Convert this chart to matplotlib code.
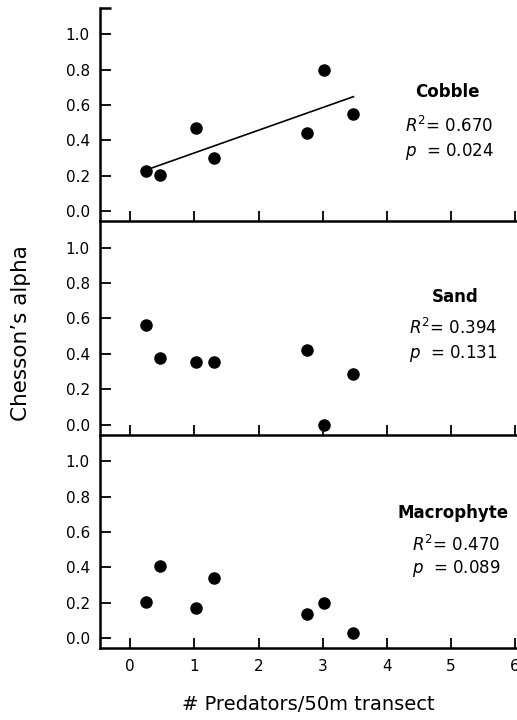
"""Chesson's alpha versus predator density for three habitat types."""
import matplotlib
matplotlib.use("Agg")
import matplotlib.pyplot as plt
from matplotlib.ticker import FixedLocator
import numpy as np

# predator counts per site (same sites in every habitat)
predators = [0.25, 0.47, 1.03, 1.30, 2.75, 3.02, 3.48]

# Chesson's alpha per habitat
cobble = [0.225, 0.206, 0.468, 0.30, 0.44, 0.80, 0.547]
sand = [0.566, 0.377, 0.355, 0.355, 0.424, 0.0, 0.289]
macrophyte = [0.205, 0.408, 0.173, 0.339, 0.136, 0.20, 0.028]

habitats = ["Cobble", "Sand", "Macrophyte"]
r_squared = ["0.670", "0.394", "0.470"]
p_values = ["0.024", "0.131", "0.089"]
x_ticks = [0, 1, 2, 3, 4, 5, 6]
y_ticks = [0.0, 0.2, 0.4, 0.6, 0.8, 1.0]

plt.rcParams.update({
    "font.family": "DejaVu Sans",
    "mathtext.fontset": "dejavusans",
    "xtick.labelsize": 11,
    "ytick.labelsize": 11,
})

fig = plt.figure(figsize=(5.17, 7.2), dpi=100)

left, width, height = 0.1925, 0.8075, 0.2965
bottoms = [0.1 + 2 * height, 0.1 + height, 0.1]
series = [cobble, sand, macrophyte]

# text placement (data coords) for each panel: name centre x, stats left x, baselines
name_x = [4.95, 5.07, 5.04]
stats_x = [4.29, 4.34, 4.39]
name_y = [0.646, 0.692, 0.679]
r2_y = [0.45, 0.515, 0.49]
p_y = [0.313, 0.377, 0.368]

axes = []
for i, (values, bottom) in enumerate(zip(series, bottoms)):
    ax = fig.add_axes([left, bottom, width, height])
    ax.patch.set_visible(False)
    axes.append(ax)
    ax.scatter(predators, values, s=64, color="black", zorder=3, clip_on=False)
    ax.set_xlim(-0.48, 6.03)
    ax.set_ylim(-0.055, 1.15)
    ax.set_xticks(x_ticks)
    ax.set_yticks(y_ticks)
    ax.set_yticklabels([f"{v:.1f}" for v in y_ticks])
    ax.tick_params(axis="both", direction="in", width=1.3, color="black")
    ax.tick_params(axis="y", length=8, pad=7)
    ax.tick_params(axis="x", length=7, pad=8)
    for side in ("top", "right"):
        ax.spines[side].set_visible(False)
    for side in ("left", "bottom"):
        ax.spines[side].set_linewidth(1.8)
        ax.spines[side].set_zorder(5)
    if i < 2:
        ax.tick_params(axis="x", labelbottom=False)

    ax.text(name_x[i], name_y[i], habitats[i], ha="center", va="baseline",
            fontsize=12, fontweight="bold")
    ax.text(stats_x[i], r2_y[i], rf"$R^2$= {r_squared[i]}", ha="left",
            va="baseline", fontsize=12)
    ax.text(stats_x[i], p_y[i], rf"$p$  = {p_values[i]}", ha="left",
            va="baseline", fontsize=12)

# least-squares line for cobble
slope, intercept = np.polyfit(predators, cobble, 1)
fit_x = np.array([min(predators), max(predators)])
axes[0].plot(fit_x, slope * fit_x + intercept, color="black", linewidth=1.2, zorder=2)

# small cap tick at the top of the y axis
axes[0].yaxis.set_minor_locator(FixedLocator([1.15]))
axes[0].tick_params(axis="y", which="minor", direction="in", length=8, width=1.8)

axes[2].set_xlabel("# Predators/50m transect", fontsize=14, labelpad=15)
fig.text(0.041, 0.537, "Chesson\u2019s alpha", rotation=90, ha="center",
         va="center", fontsize=15.5)

fig.savefig("out.png", dpi=100)
